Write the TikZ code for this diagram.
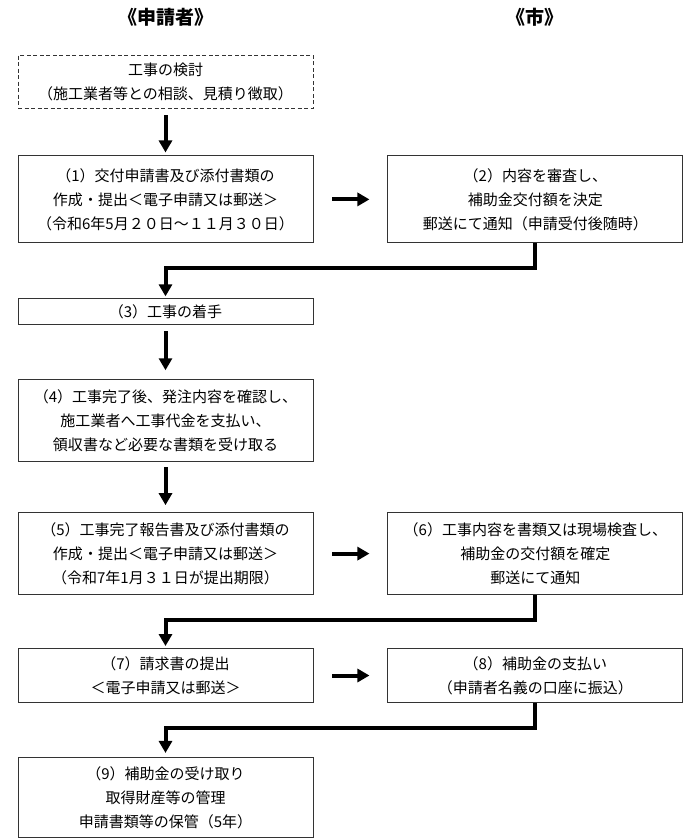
\documentclass[tikz,border=0pt]{standalone}
\usepackage{fontspec}
\newfontfamily\jpfont{Noto Sans CJK JP}
\usetikzlibrary{arrows.meta,positioning}

\begin{document}
\begin{tikzpicture}[
    auto,
    node distance=54pt,
    >={Triangle[length=12pt,width=13pt]},
    font=\jpfont,
    proc/.style={
		rectangle,
		draw=black!80,
		line width=0.9pt,
		align=center,
		text width=285pt,
		inner xsep=5pt,
		inner ysep=0pt,
		minimum height=82pt,
		font=\jpfont\fontsize{15}{24}\selectfont,
		fill=white
	},
	plan/.style={
		proc,
		dash pattern=on 4pt off 2.5pt,
		minimum height=53pt
	},
	head/.style={
		font=\jpfont\bfseries\fontsize{19}{22}\selectfont
	},
	flow/.style={
		->,
		line width=4pt
	}
  ]
  \useasboundingbox (0,0) rectangle (696pt,-838pt);

    % We start by placing the blocks
  \node [plan] (plan) at (165.5pt,-81.5pt)
 {工事の検討\\（施工業者等との相談、見積り徴取）};

  \node [proc, below=47pt of plan, minimum height=87pt] (apply)
 {（1）交付申請書及び添付書類の\\
  作成・提出＜電子申請又は郵送＞\\
  （令和6年5月２０日～１１月３０日）};

  \node [proc, right=74pt of apply, minimum height=87pt] (review)
 {（2）内容を審査し、\\
  補助金交付額を決定\\
  郵送にて通知（申請受付後随時）};

  \node [proc, below=55pt of apply, minimum height=26pt] (start)
 {（3）工事の着手};

  \node [proc, below=of start] (pay)
 {（4）工事完了後、発注内容を確認し、\\
  施工業者へ工事代金を支払い、\\
  領収書など必要な書類を受け取る};

  \node [proc, below=50pt of pay] (report)
 {（5）工事完了報告書及び添付書類の\\
  作成・提出＜電子申請又は郵送＞\\
  （令和7年1月３１日が提出期限）};

  \node [proc, right=74pt of report] (inspect)
 {（6）工事内容を書類又は現場検査し、\\
  補助金の交付額を確定\\
  郵送にて通知};

  \node [proc, below=53pt of report, minimum height=54pt] (claim)
 {（7）請求書の提出\\
  ＜電子申請又は郵送＞};

  \node [proc, right=74pt of claim, minimum height=54pt] (grant)
 {（8）補助金の支払い\\
  （申請者名義の口座に振込）};

  \node [proc, below=of claim, minimum height=80pt] (receive)
 {（9）補助金の受け取り\\
  取得財産等の管理\\
  申請書類等の保管（5年）};

  % column headings
  \node [head] (appl) at (165.5pt,-17pt) {《申請者》};
  \node [head] (city) at (review |- appl) {《市》};

  % arrows
  \draw [flow, shorten <=7pt, shorten >=3pt] (plan) -- (apply);
  \draw [flow, shorten <=19pt, shorten >=18pt] (apply) -- (review);
  \draw [flow, shorten >=2pt] (review.south) -- ++(0,-25pt) -| (start.north);
  \draw [flow, shorten <=6pt, shorten >=9pt] (start) -- (pay);
  \draw [flow, shorten <=5pt, shorten >=7pt] (pay) -- (report);
  \draw [flow, shorten <=19pt, shorten >=18pt] (report) -- (inspect);
  \draw [flow, shorten >=2pt] (inspect.south) -- ++(0,-25pt) -| (claim.north);
  \draw [flow, shorten <=19pt, shorten >=18pt] (claim) -- (grant);
  \draw [flow, shorten >=4pt] (grant.south) -- ++(0,-25pt) -| (receive.north);

\end{tikzpicture}
\end{document}
